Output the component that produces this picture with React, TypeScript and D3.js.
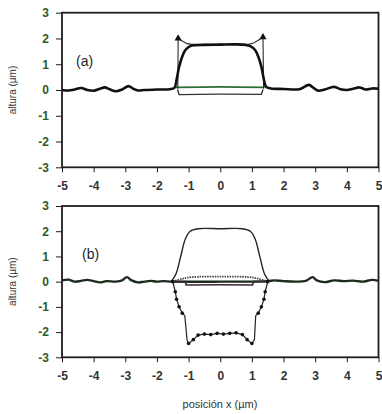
import React, { useEffect, useRef } from "react";
import * as d3 from "d3";

type Pt = [number, number];

const xTicks = [-5, -4, -3, -2, -1, 0, 1, 2, 3, 4, 5];
const yTicks = [-3, -2, -1, 0, 1, 2, 3];

// panel (a) - measured profiles
const aProfile: Pt[] = [
  [-5, 0.0], [-4.8, -0.02], [-4.6, 0.02], [-4.4, 0.08], [-4.2, 0.0], [-4.0, -0.03],
  [-3.8, 0.05], [-3.65, 0.1], [-3.5, 0.03], [-3.3, -0.05], [-3.1, 0.02], [-2.9, 0.15],
  [-2.75, 0.05], [-2.6, -0.02], [-2.4, 0.0], [-2.0, 0.02], [-1.6, 0.03], [-1.45, 0.08],
  [-1.38, 0.4], [-1.3, 0.9], [-1.2, 1.3], [-1.1, 1.55], [-0.95, 1.7], [-0.8, 1.74], [-0.5, 1.75],
  [0, 1.76], [0.5, 1.77], [0.8, 1.75], [0.95, 1.7], [1.1, 1.55], [1.2, 1.3], [1.3, 0.9],
  [1.38, 0.4], [1.45, 0.12],
  [1.6, 0.06], [2.0, 0.04], [2.5, 0.03], [2.8, 0.2], [2.95, 0.08], [3.1, -0.03], [3.3, 0.02],
  [3.6, 0.12], [3.8, 0.03], [4.0, 0.0], [4.2, 0.05], [4.4, 0.1], [4.6, 0.02], [4.8, 0.06], [5.0, 0.05],
];
const aSpike: Pt[] = [
  [-1.34, 0.05], [-1.33, 2.0], [-1.2, 1.9], [-1.05, 1.8], [-0.9, 1.77], [0.9, 1.77],
  [1.05, 1.82], [1.2, 1.93], [1.35, 2.05], [1.37, 0.05],
];
const aSpikeTips: Pt[] = [[-1.33, 2.0], [1.35, 2.05]];
const aGreen: Pt[] = [[-1.4, 0.1], [0, 0.12], [1.4, 0.1]];
const aLow: Pt[] = [[-1.35, 0.02], [-1.3, -0.18], [0, -0.16], [1.3, -0.17], [1.35, 0.02]];

// panel (b)
const bProfile: Pt[] = [
  [-5, 0.05], [-4.8, 0.08], [-4.6, 0.0], [-4.4, 0.03], [-4.2, 0.07], [-4.0, 0.02],
  [-3.8, -0.03], [-3.6, 0.02], [-3.3, 0.0], [-3.1, 0.05], [-2.95, 0.18], [-2.8, 0.05],
  [-2.6, -0.03], [-2.4, 0.0], [-2.2, 0.03], [-2.0, 0.0], [-1.8, 0.02], [-1.5, 0.0],
  [0, 0.0], [1.5, 0.02], [1.7, 0.05], [2.0, 0.02], [2.4, 0.0], [2.7, 0.03], [2.92, 0.18],
  [3.05, 0.05], [3.3, -0.02], [3.6, 0.05], [3.9, 0.02], [4.2, 0.04], [4.5, 0.0], [4.8, 0.07], [5.0, 0.03],
];
const bMesa: Pt[] = [
  [-1.55, 0], [-1.4, 0.3], [-1.25, 1.0], [-1.1, 1.7], [-0.95, 2.0], [-0.7, 2.1], [0, 2.1],
  [0.7, 2.1], [0.95, 2.0], [1.1, 1.7], [1.25, 1.0], [1.4, 0.3], [1.55, 0],
];
const bArch: Pt[] = [[-1.5, 0], [-1.2, 0.12], [-0.9, 0.18], [0, 0.2], [0.9, 0.18], [1.2, 0.12], [1.5, 0]];
const bStep: Pt[] = [[-1.5, 0], [-1.1, 0], [-1.08, -0.13], [0, -0.12], [1.02, -0.13], [1.05, 0], [1.5, 0]];
const bPit: Pt[] = [
  [-1.5, 0], [-1.42, -0.4], [-1.38, -0.7], [-1.3, -1.0], [-1.2, -1.25], [-1.12, -1.35],
  [-1.05, -2.3], [-1.0, -2.45], [-0.85, -2.3], [-0.7, -2.12], [-0.5, -2.08], [-0.3, -2.1],
  [-0.1, -2.05], [0.1, -2.08], [0.3, -2.05], [0.5, -2.03], [0.7, -2.1], [0.85, -2.3],
  [1.0, -2.45], [1.08, -2.3], [1.12, -1.35], [1.2, -1.25], [1.3, -1.0], [1.38, -0.7], [1.42, -0.4], [1.5, 0],
];

function App() {
  const svgRef = useRef<SVGSVGElement>(null);

  useEffect(() => {
    const svg = d3.select(svgRef.current);
    svg.selectAll("*").remove();
    const left = 62;
    const right = 378.5;
    const ink = "#1e1e1e";
    const font = "Liberation Sans, Arial, sans-serif";

    const x = d3.scaleLinear().domain([-5, 5]).range([left, right]);

    const drawPanel = (top: number, bottom: number, tag: string, tagX: number) => {
      const y = d3.scaleLinear().domain([-3, 3]).range([bottom, top]);
      const g = svg.append("g");
      const smooth = d3
        .line<Pt>()
        .x((d) => x(d[0]))
        .y((d) => y(d[1]))
        .curve(d3.curveCatmullRom.alpha(0.5));
      const straight = d3
        .line<Pt>()
        .x((d) => x(d[0]))
        .y((d) => y(d[1]));

      // axes
      const ya = g
        .append("g")
        .attr("transform", `translate(${left},0)`)
        .call(
          d3.axisLeft(y).tickValues(yTicks).tickFormat((d) => String(d))
            .tickSize(6).tickSizeOuter(0).tickPadding(7),
        );
      ya.select(".domain").remove();
      ya.selectAll("line").attr("stroke", ink);
      ya.selectAll("text")
        .attr("fill", "#2c5a2c")
        .style("font-family", font)
        .style("font-size", "12px")
        .style("font-weight", "bold");

      const xa = g
        .append("g")
        .attr("transform", `translate(0,${bottom})`)
        .call(
          d3.axisBottom(x).tickValues(xTicks).tickFormat((d) => String(d))
            .tickSize(5).tickSizeOuter(0).tickPadding(9),
        );
      xa.select(".domain").remove();
      xa.selectAll("line").attr("stroke", ink);
      xa.selectAll("text")
        .attr("fill", "#333")
        .style("font-family", font)
        .style("font-size", "12px")
        .style("font-weight", "bold");

      g.append("rect")
        .attr("x", left)
        .attr("y", top)
        .attr("width", right - left)
        .attr("height", bottom - top)
        .attr("fill", "none")
        .attr("stroke", ink)
        .attr("stroke-width", 1.8);

      g.append("text")
        .attr("transform", `translate(16,${(top + bottom) / 2}) rotate(-90)`)
        .attr("text-anchor", "middle")
        .attr("fill", "#333")
        .style("font-family", font)
        .style("font-size", "10px")
        .text("altura (µm)");

      g.append("text")
        .attr("x", tagX)
        .attr("y", y(1.15) + 6)
        .attr("fill", ink)
        .style("font-family", font)
        .style("font-size", "14px")
        .text(tag);

      return { g, smooth, straight, y };
    };

    // panel (a)
    const pa = drawPanel(12.7, 167.3, "(a)", 76);
    pa.g.append("path").attr("d", pa.straight(aLow)).attr("fill", "none").attr("stroke", "#333").attr("stroke-width", 1.4);
    pa.g.append("path").attr("d", pa.smooth(aGreen)).attr("fill", "none").attr("stroke", "#2e6e35").attr("stroke-width", 1.6);
    pa.g.append("path").attr("d", pa.straight(aSpike)).attr("fill", "none").attr("stroke", "#2a2a2a").attr("stroke-width", 1.1);
    pa.g.append("path").attr("d", pa.smooth(aProfile)).attr("fill", "none").attr("stroke", "#111").attr("stroke-width", 2.6);
    pa.g.selectAll(".tip")
      .data(aSpikeTips)
      .enter()
      .append("path")
      .attr("d", d3.symbol(d3.symbolTriangle, 22)())
      .attr("transform", (d) => `translate(${x(d[0])},${pa.y(d[1])})`)
      .attr("fill", "#111");

    // panel (b)
    const pb = drawPanel(206, 357.3, "(b)", 82);
    pb.g.append("path").attr("d", pb.smooth(bProfile)).attr("fill", "none").attr("stroke", "#1d2a1d").attr("stroke-width", 2.4);
    pb.g.append("path").attr("d", pb.smooth(bArch)).attr("fill", "none").attr("stroke", "#444").attr("stroke-width", 1.8).attr("stroke-dasharray", "1.5,1");
    pb.g.append("path").attr("d", pb.straight(bStep)).attr("fill", "none").attr("stroke", "#3a2838").attr("stroke-width", 1.6);
    pb.g.append("path").attr("d", pb.smooth(bMesa)).attr("fill", "none").attr("stroke", "#2b2323").attr("stroke-width", 1.4);
    pb.g.append("path").attr("d", pb.straight(bPit)).attr("fill", "none").attr("stroke", "#222").attr("stroke-width", 1.2);
    pb.g.selectAll(".dot")
      .data(bPit.filter((d) => Math.abs(d[0]) > 1.15 || Math.abs(d[0]) < 1.01))
      .enter()
      .append("circle")
      .attr("cx", (d) => x(d[0]))
      .attr("cy", (d) => pb.y(d[1]))
      .attr("r", 1.8)
      .attr("fill", "#111");

    svg.append("text")
      .attr("x", 220)
      .attr("y", 408)
      .attr("text-anchor", "middle")
      .attr("fill", "#333")
      .style("font-family", font)
      .style("font-size", "11px")
      .text("posición x (µm)");
  }, []);

  return (
    <svg
      ref={svgRef}
      width={382}
      height={414}
      style={{ position: "absolute", left: 0, top: 0, background: "#fff" }}
    />
  );
}

export default App;
